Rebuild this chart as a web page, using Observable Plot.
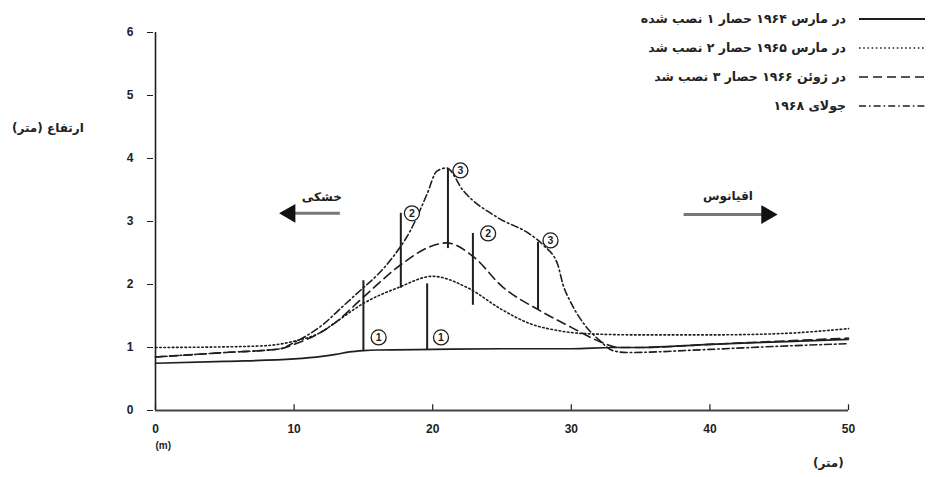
<!DOCTYPE html>
<html><head><meta charset="utf-8">
<script src="https://cdn.jsdelivr.net/npm/d3@7"></script>
<script src="https://cdn.jsdelivr.net/npm/@observablehq/plot@0.6"></script>
<style>
body{margin:0;background:#fff;}
#wrap{position:relative;width:934px;height:477px;overflow:hidden;}
.fa{font-family:"DejaVu Sans",sans-serif;font-weight:bold;color:#222;direction:rtl;position:absolute;white-space:nowrap;}
#legend{position:absolute;right:9px;top:4px;}
.row{display:flex;align-items:center;justify-content:flex-end;height:29px;}
.row span{font-family:"DejaVu Sans",sans-serif;font-weight:bold;font-size:12.5px;color:#222;direction:rtl;margin-right:13px;}
</style></head>
<body><div id="wrap"><div id="chart"></div><div id="legend"></div>
<div class="fa" style="left:12px;top:121px;font-size:12px;">ارتفاع (متر)</div>
<div class="fa" style="left:813px;top:456px;font-size:12px;">(متر)</div>
</div>
<script>
// Profiles (distance m, elevation m)
const x1964 = [0, 5, 10, 12, 13, 14, 15, 16, 20, 25, 30, 33, 35, 40, 45, 50];
const y1964 = [0.75, 0.78, 0.82, 0.86, 0.89, 0.93, 0.95, 0.96, 0.97, 0.98, 0.98, 1.0, 1.0, 1.05, 1.09, 1.13];
const x1965 = [0, 5, 8, 10, 12, 13, 15, 17.5, 20, 22.5, 25, 27, 29, 31, 35, 40, 45, 50];
const y1965 = [1.0, 1.01, 1.03, 1.1, 1.25, 1.4, 1.7, 1.95, 2.13, 1.95, 1.6, 1.38, 1.27, 1.22, 1.2, 1.2, 1.22, 1.3];
const x1966 = [0, 5, 9, 10, 12, 13, 15, 17.8, 19.8, 21, 23, 25, 27.7, 30, 32, 33.5, 35, 40, 45, 50];
const y1966 = [0.85, 0.92, 0.98, 1.05, 1.25, 1.4, 1.8, 2.33, 2.6, 2.66, 2.43, 1.97, 1.59, 1.32, 1.1, 1.0, 1.0, 1.05, 1.1, 1.15];
const x1968 = [0, 5, 9, 10, 12, 13.5, 15, 16, 17, 18.4, 19.6, 20.3, 21, 22.2, 24.7, 27, 28, 29, 29.4, 30, 31, 32, 33, 34, 40, 45, 50];
const y1968 = [0.85, 0.92, 0.98, 1.08, 1.35, 1.65, 1.95, 2.15, 2.4, 2.86, 3.44, 3.8, 3.85, 3.49, 3.06, 2.8, 2.62, 2.33, 2.0, 1.7, 1.35, 1.12, 0.95, 0.92, 0.97, 1.02, 1.06];

// Fences (stakes)
const stakeX = [15.0, 19.6, 17.7, 22.9, 21.1, 27.6];
const stakeBottom = [0.95, 0.96, 1.94, 1.67, 2.57, 1.59];
const stakeTop = [2.06, 2.01, 3.13, 2.81, 3.84, 2.67];
const stakeNum = ["1", "1", "2", "2", "3", "3"];
const labelX = [16.1, 20.6, 18.5, 24.0, 22.0, 28.5];
const labelY = [1.16, 1.16, 3.13, 2.81, 3.81, 2.70];

const seriesNames = ["در مارس ۱۹۶۴ حصار ۱ نصب شده", "در مارس ۱۹۶۵ حصار ۲ نصب شد", "در ژوئن ۱۹۶۶ حصار ۳ نصب شد", "جولای ۱۹۶۸"];
const seriesDash = [null, "1.6,2.6", "9,5", "7,3,1.6,3"];
const xTicks = [0, 10, 20, 30, 40, 50];
const yTicks = [0, 1, 2, 3, 4, 5, 6];

const landArrow = {x1: 13.3, x2: 10.0, y: 3.13, head: 9.7, label: "خشکی", lx: 12.0, ly: 3.38};
const seaArrow = {x1: 38.1, x2: 43.8, y: 3.11, head: 44.1, label: "اقیانوس", lx: 41.3, ly: 3.40};

const profiles = [[x1964, y1964], [x1965, y1965], [x1966, y1966], [x1968, y1968]]
  .map(([xs, ys], i) => xs.map((x, j) => ({x, y: ys[j], s: i})));
const stakes = stakeX.map((x, i) => ({x, y1: stakeBottom[i], y2: stakeTop[i]}));
const labels = labelX.map((x, i) => ({x, y: labelY[i], t: stakeNum[i]}));
const arrows = [landArrow, seaArrow];

const ink = "#1e1e1e";
const marks = [];
profiles.forEach((d, i) => {
  marks.push(Plot.line(d, {x: "x", y: "y", curve: "monotone-x", stroke: ink,
    strokeWidth: i === 0 ? 1.7 : 1.6, strokeDasharray: seriesDash[i]}));
});
marks.push(
  Plot.ruleX(stakes, {x: "x", y1: "y1", y2: "y2", stroke: ink, strokeWidth: 2}),
  Plot.dot(labels, {x: "x", y: "y", r: 7.5, stroke: ink, strokeWidth: 1.3, fill: "white"}),
  Plot.text(labels, {x: "x", y: "y", text: "t", fontSize: 10.5, fontWeight: "bold", fontFamily: "Liberation Sans, sans-serif", fill: ink}),
  Plot.link(arrows, {x1: "x1", x2: "x2", y1: "y", y2: "y", stroke: "#777", strokeWidth: 3}),
  Plot.dot(arrows, {x: "head", y: "y", symbol: "triangle", r: 7, fill: "#111", stroke: "none",
    rotate: (d, i) => i === 0 ? -90 : 90}),
  Plot.text(arrows, {x: "lx", y: "ly", text: "label", fontSize: 12, fontWeight: "bold",
    fontFamily: "DejaVu Sans, sans-serif", fill: ink}),
  Plot.ruleX([0], {y1: 0, y2: 6, stroke: ink, strokeWidth: 1.6}),
  Plot.ruleY([0], {x1: 0, x2: 50, stroke: "#444", strokeWidth: 2}),
  Plot.ruleX(xTicks, {y1: 0, y2: 0.09, stroke: ink, strokeWidth: 1.2}),
  Plot.axisY({ticks: yTicks, tickFormat: "d", tickSize: 6, tickPadding: 14, dx: -2, label: null, fontSize: 12,
    fontWeight: "bold", fontFamily: "Liberation Sans, sans-serif", stroke: ink}),
  Plot.axisX({ticks: xTicks, tickFormat: "d", tickSize: 0, tickPadding: 14, label: null, fontSize: 12,
    fontWeight: "bold", fontFamily: "Liberation Sans, sans-serif"}),
  Plot.text(["(m)"], {frameAnchor: "bottom-left", dy: 38, text: d => d, fontSize: 10,
    fontWeight: "bold", fontFamily: "Liberation Sans, sans-serif", fill: ink})
);

const chart = Plot.plot({
  width: 934, height: 477,
  marginLeft: 155, marginRight: 86, marginTop: 32, marginBottom: 67,
  x: {domain: [0, 50]},
  y: {domain: [0, 6]},
  style: {background: "white", color: ink},
  marks
});
document.getElementById("chart").appendChild(chart);

const legend = document.getElementById("legend");
seriesNames.forEach((name, i) => {
  const row = document.createElement("div");
  row.className = "row";
  const span = document.createElement("span");
  span.textContent = name;
  row.appendChild(span);
  const svg = d3.create("svg").attr("width", 66).attr("height", 10);
  svg.append("line").attr("x1", 0).attr("x2", 66).attr("y1", 5).attr("y2", 5)
    .attr("stroke", ink).attr("stroke-width", i === 0 ? 2 : 1.6)
    .attr("stroke-dasharray", seriesDash[i]);
  row.appendChild(svg.node());
  legend.appendChild(row);
});
</script>
</body></html>
